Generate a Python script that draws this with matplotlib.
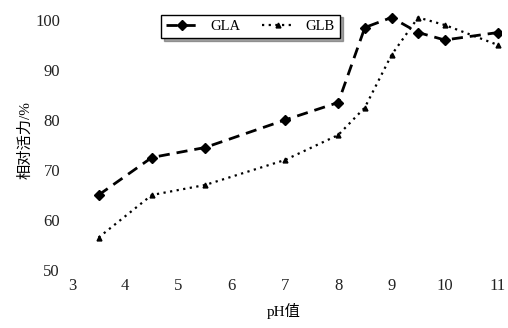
import matplotlib
matplotlib.use("Agg")
import matplotlib.pyplot as plt

plt.rcParams['font.family'] = ['Liberation Serif', 'Noto Sans CJK SC']

# pH values and relative activity (%) of the two enzymes
ph = [3.5, 4.5, 5.5, 7, 8, 8.5, 9, 9.5, 10, 11]
gla = [65, 72.5, 74.5, 80, 83.5, 98.5, 100.5, 97.5, 96, 97.5]
glb = [56.5, 65, 67, 72, 77, 82.5, 93, 100.5, 99, 95]
xticks = [3, 4, 5, 6, 7, 8, 9, 10, 11]
yticks = [50, 60, 70, 80, 90, 100]

fig = plt.figure(figsize=(5.08, 3.28), dpi=100)
ax = fig.add_axes([67/508, 58/328, 434/508, 260/328])

ax.plot(ph, gla, color='black', ls=(0, (4, 2.5)), lw=2.0,
        marker='D', ms=5.5, label='GLA')
ax.plot(ph, glb, color='black', ls=(0, (1, 2)), lw=1.6,
        marker='^', ms=3.5, label='GLB')

ax.set_xlim(2.907, 11.056)
ax.set_ylim(50, 102)
ax.set_xticks(xticks)
ax.set_yticks(yticks)
for s in ax.spines.values():
    s.set_visible(False)
ax.tick_params(axis='both', length=0, labelsize=12, colors='#222222')
ax.tick_params(axis='x', pad=6)
ax.tick_params(axis='y', pad=5)

ax.set_xlabel('pH值', fontsize=11, labelpad=6)
ax.set_ylabel('相对活力/%', fontsize=11, labelpad=2)

leg = ax.legend(loc='upper left', bbox_to_anchor=(0.2, 1.01), ncol=2,
                frameon=True, fancybox=False, shadow=True, fontsize=10.5,
                handlelength=2.2, columnspacing=1.5, borderpad=0.35)
leg.get_frame().set_edgecolor('black')
leg.get_frame().set_linewidth(1.0)

fig.savefig('out.png', dpi=100)
